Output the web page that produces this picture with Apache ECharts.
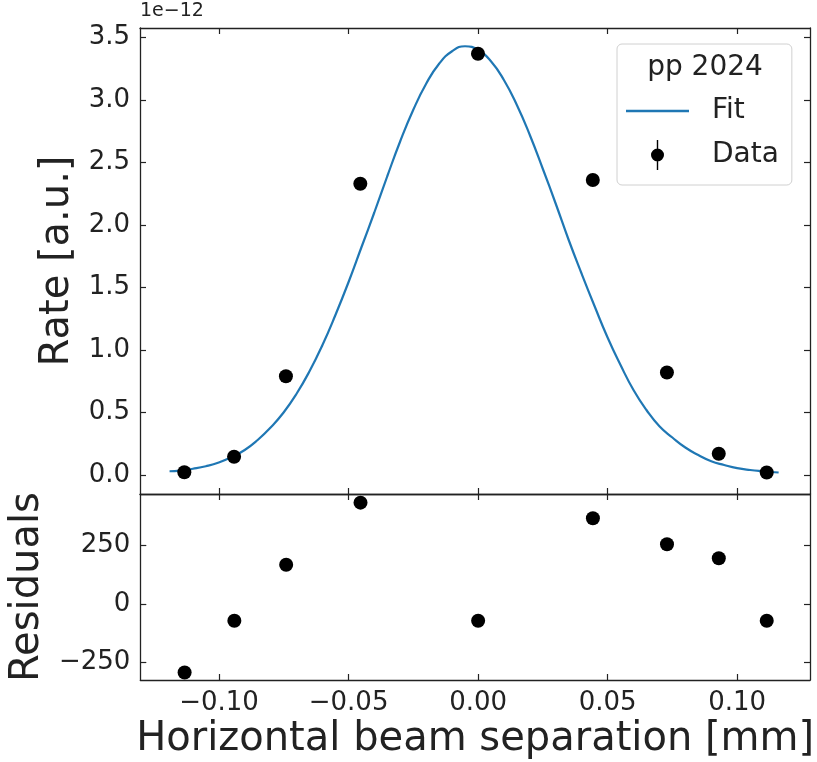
<!DOCTYPE html>
<html>
<head>
<meta charset="utf-8">
<script src="https://cdn.jsdelivr.net/npm/echarts@6/dist/echarts.min.js"></script>
<style>
  html, body { margin: 0; padding: 0; background: #fff; }
  #chart { width: 817px; height: 762px; }
</style>
</head>
<body>
<div id="chart"></div>
<script>
// measured points (rate in units of 1e-12)
const sepX = [-0.1133, -0.0941, -0.0741, -0.0454, 0.0, 0.0443, 0.0729, 0.0929, 0.1114]
const rateY = [0.022, 0.146, 0.79, 2.33, 3.37, 2.36, 0.82, 0.17, 0.02]
const residY = [-294, -72, 168, 434, -72, 367, 256, 196, -72]

// fit curve
const fitX = [-0.119, -0.115, -0.110, -0.105, -0.100, -0.095, -0.090, -0.085, -0.080, -0.075,
  -0.070, -0.065, -0.060, -0.055, -0.050, -0.045, -0.040, -0.035, -0.030, -0.025,
  -0.020, -0.015, -0.010, -0.005, 0.000, 0.005, 0.010, 0.015, 0.020, 0.025,
  0.030, 0.035, 0.040, 0.045, 0.050, 0.055, 0.060, 0.065, 0.070, 0.075,
  0.080, 0.085, 0.090, 0.095, 0.100, 0.105, 0.110, 0.116]
const fitY = [0.03, 0.035, 0.05, 0.07, 0.10, 0.145, 0.20, 0.28, 0.38, 0.50,
  0.65, 0.83, 1.04, 1.28, 1.54, 1.82, 2.10, 2.39, 2.67, 2.92,
  3.13, 3.29, 3.39, 3.43, 3.40, 3.31, 3.16, 2.96, 2.72, 2.45,
  2.17, 1.88, 1.61, 1.35, 1.10, 0.88, 0.68, 0.52, 0.39, 0.30,
  0.22, 0.16, 0.11, 0.08, 0.055, 0.04, 0.03, 0.02]

const xTicks = [-0.10, -0.05, 0.00, 0.05, 0.10]
const rateTicks = [0.0, 0.5, 1.0, 1.5, 2.0, 2.5, 3.0, 3.5]
const residTicks = [-250, 0, 250]

const font = 'DejaVu Sans'
const ink = '#222'

const chart = echarts.init(document.getElementById('chart'))

// shared look of a matplotlib-style spine with inward ticks
function spine(extra, ticks, labels) {
  return Object.assign({
    type: 'value',
    axisLine: { show: true, onZero: false, lineStyle: { color: ink, width: 1.3 } },
    axisTick: { show: true, inside: true, length: 6, customValues: ticks, lineStyle: { color: ink, width: 1.2 } },
    axisLabel: labels
      ? Object.assign({ show: true, customValues: ticks, color: ink, fontSize: 26, fontFamily: font }, labels)
      : { show: false },
    splitLine: { show: false }
  }, extra)
}

const xr = { min: -0.1304, max: 0.1281 }
const yr = { min: -0.152, max: 3.576 }
const rr = { min: -326, max: 471 }

chart.setOption({
  backgroundColor: '#fff',
  animation: false,
  grid: [
    { left: 140, top: 28, width: 670, height: 466 },
    { left: 140, top: 494, width: 670, height: 186 }
  ],
  xAxis: [
    spine(Object.assign({ gridIndex: 0, position: 'bottom' }, xr), xTicks),
    spine(Object.assign({ gridIndex: 0, position: 'top' }, xr), xTicks),
    spine(Object.assign({
      gridIndex: 1, position: 'bottom',
      name: 'Horizontal beam separation [mm]', nameLocation: 'middle', nameGap: 40,
      nameTextStyle: { fontSize: 40, color: ink, fontFamily: font }
    }, xr), xTicks, { margin: 10, formatter: v => (v < 0 ? '\u2212' : '') + Math.abs(v).toFixed(2) }),
    spine(Object.assign({ gridIndex: 1, position: 'top' }, xr), xTicks)
  ],
  yAxis: [
    spine(Object.assign({
      gridIndex: 0, position: 'left',
      name: 'Rate [a.u.]', nameLocation: 'middle', nameGap: 62,
      nameTextStyle: { fontSize: 40, color: ink, fontFamily: font }
    }, yr), rateTicks, { margin: 10, formatter: v => v.toFixed(1) }),
    spine(Object.assign({ gridIndex: 0, position: 'right' }, yr), rateTicks),
    spine(Object.assign({
      gridIndex: 1, position: 'left',
      name: 'Residuals', nameLocation: 'middle', nameGap: 92,
      nameTextStyle: { fontSize: 40, color: ink, fontFamily: font }
    }, rr), residTicks, { margin: 10, formatter: v => (v < 0 ? '\u2212' : '') + Math.abs(v) }),
    spine(Object.assign({ gridIndex: 1, position: 'right' }, rr), residTicks)
  ],
  legend: {
    orient: 'vertical', left: 617, top: 44,
    padding: [53, 13, 15, 9],
    itemWidth: 63, itemHeight: 30, itemGap: 15,
    backgroundColor: 'rgba(255,255,255,0.8)',
    borderColor: '#d0d0d0', borderWidth: 1, borderRadius: 5,
    textStyle: { fontSize: 28, color: ink, fontFamily: font, padding: [0, 0, 0, 18] },
    data: [
      { name: 'Fit', icon: 'path://M0 0H63V2.3H0Z' },
      { name: 'Data', icon: 'path://M4.3 0H5.7V30H4.3Z M11.5 15A6.5 6.5 0 1 1 -1.5 15A6.5 6.5 0 1 1 11.5 15Z' }
    ]
  },
  graphic: [
    { type: 'text', left: 140, top: 2, z: 10,
      style: { text: '1e\u221212', fontSize: 19, fill: ink, fontFamily: font } },
    { type: 'text', x: 705, y: 68, z: 10,
      style: { text: 'pp 2024', fontSize: 28, fill: ink, fontFamily: font, align: 'center', verticalAlign: 'middle' } }
  ],
  series: [
    {
      name: 'Fit', type: 'line', xAxisIndex: 0, yAxisIndex: 0,
      data: fitX.map((x, i) => [x, fitY[i]]),
      smooth: true, symbol: 'none',
      lineStyle: { color: '#1f77b4', width: 2.2 },
      itemStyle: { color: '#1f77b4' }, z: 2
    },
    {
      name: 'Data', type: 'scatter', xAxisIndex: 0, yAxisIndex: 0,
      data: sepX.map((x, i) => [x, rateY[i]]),
      symbolSize: 14, itemStyle: { color: '#000', opacity: 1 }, z: 3
    },
    {
      name: 'Residuals', type: 'scatter', xAxisIndex: 2, yAxisIndex: 2,
      data: sepX.map((x, i) => [x, residY[i]]),
      symbolSize: 14, itemStyle: { color: '#000', opacity: 1 }, z: 3
    }
  ]
})
</script>
</body>
</html>
